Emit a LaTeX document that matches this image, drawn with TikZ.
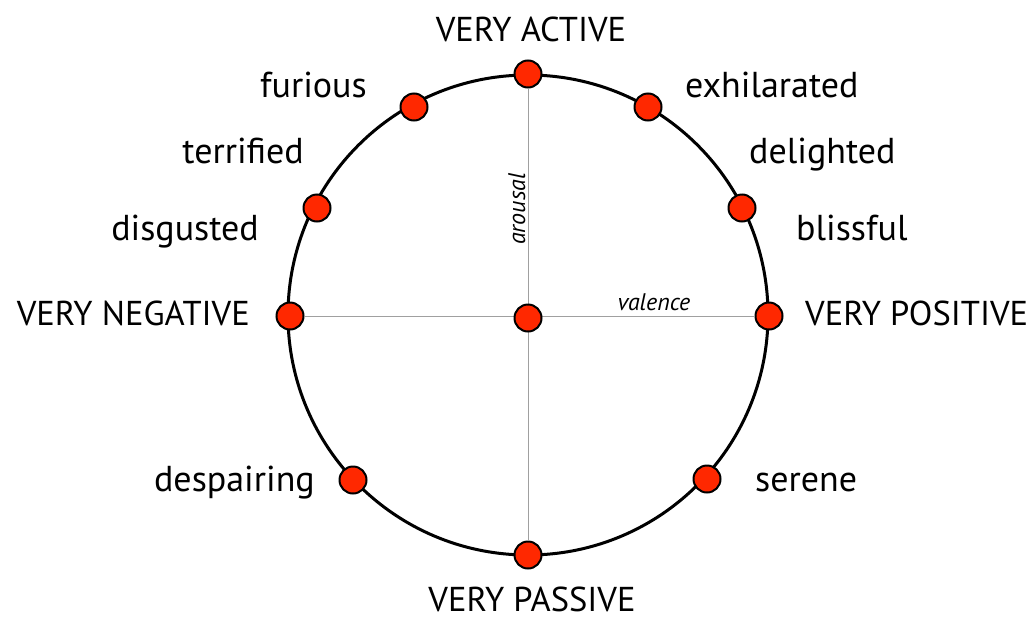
\documentclass[tikz,border=0pt]{standalone}
\usepackage{fontspec}
\setmainfont{PT Sans}
\definecolor{dotred}{RGB}{255,40,0}
\definecolor{axisgray}{RGB}{160,160,160}
\begin{document}
\begin{tikzpicture}[x=1pt,y=-1pt,
  dot/.style={circle,draw=black,line width=2pt,fill=dotred,minimum size=27pt,inner sep=0pt},
  lab/.style={font=\fontsize{36}{40}\selectfont,inner sep=0pt},
  caplab/.style={font=\fontsize{34.5}{38}\selectfont,inner sep=0pt},
  axlab/.style={font=\fontsize{24}{28}\selectfont\itshape,inner sep=0pt},
  axis/.style={draw=axisgray,line width=1pt}]
\useasboundingbox[fill=white] (0,0) rectangle (1032,616);
\draw[line width=3pt] (528,315) circle[radius=240pt];
\coordinate (c) at (528,318);
\node[dot] (top) at (528,74) {};
\node[dot] (bot) at (528,555) {};
\node[dot] (left) at (290,316) {};
\node[dot] (right) at (769,316) {};
\draw[axis] (top) -- (bot);
\draw[axis] (left) -- (right);
\node[dot] (ctr) at (c) {};
\node[dot] (fur) at (414,107) {};
\node[dot] (exh) at (648,107) {};
\node[dot] (ter) at (317,208) {};
\node[dot] (del) at (742,208) {};
\node[dot] (desp) at (353,480) {};
\node[dot] (ser) at (707,479) {};
\node[caplab,anchor=base] (tva) at (531,41) {VERY ACTIVE};
\node[caplab,anchor=base] (tvp) at (532,611) {VERY PASSIVE};
\node[caplab,anchor=base east] (tvn) at (250,325) {VERY NEGATIVE};
\node[caplab,anchor=base west] (tvpos) at (805,325) {VERY POSITIVE};
\node[lab,anchor=base east] (tfur) at (367,97) {furious};
\node[lab,anchor=base east] (tter) at (304,163) {terrified};
\node[lab,anchor=base east] (tdis) at (259,240) {disgusted};
\node[lab,anchor=base east] (tdesp) at (315,491) {despairing};
\node[lab,anchor=base west] (texh) at (685,97) {exhilarated};
\node[lab,anchor=base west] (tdel) at (749,163) {delighted};
\node[lab,anchor=base west] (tbli) at (796,240) {blissful};
\node[lab,anchor=base west] (tser) at (755,491) {serene};
\node[axlab,rotate=90,anchor=base] (tar) at (525,209) {arousal};
\node[axlab,anchor=base] (tval) at (654,310) {valence};
\end{tikzpicture}
\end{document}
